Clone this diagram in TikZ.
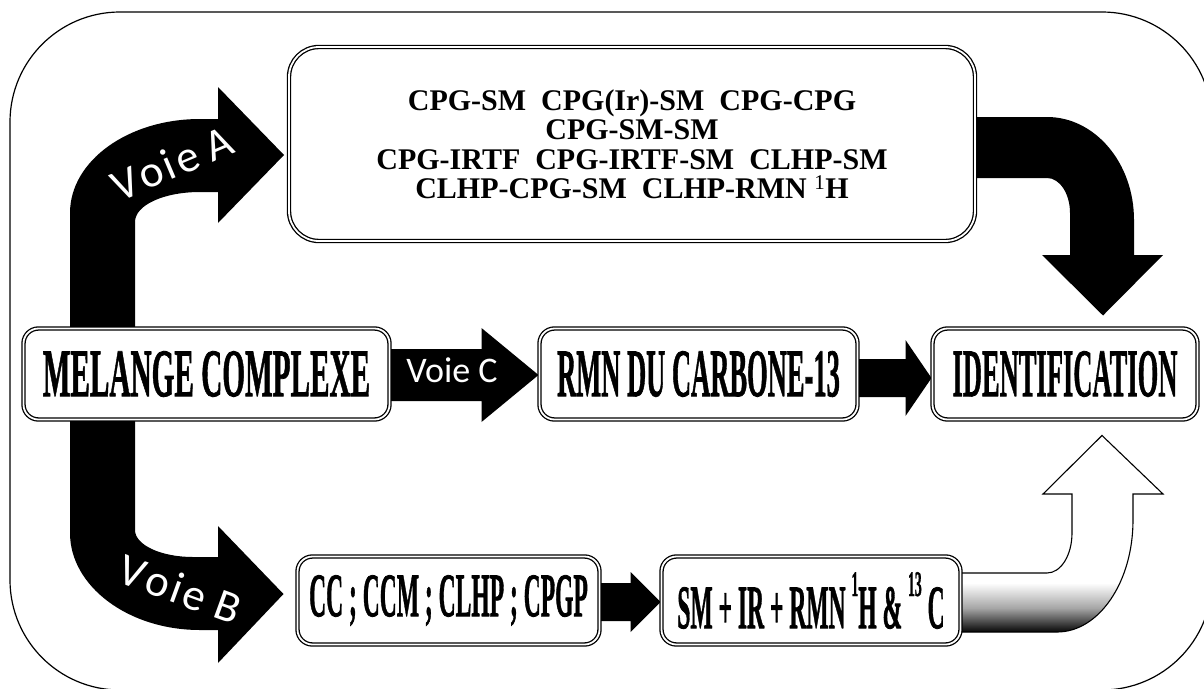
\documentclass[tikz,border=0pt]{standalone}
\usepackage{fontspec}
\usepackage{graphicx}
\setmainfont{Liberation Serif}
\newfontfamily\condfont[UprightFont=* Bold, FakeBold=1.3]{Liberation Serif}
\newfontfamily\voiefont{Carlito}
\newcommand\hisup[1]{\raisebox{0.52em}{\fontsize{36}{36}\selectfont #1}}
\usetikzlibrary{calc,backgrounds}
\begin{document}
\begin{tikzpicture}[x=1pt,y=-1pt,
  box/.style={draw, double, line width=1.3pt, double distance=1.8pt, rounded corners=15pt, fill=white, inner sep=0pt, outer sep=0pt},
  cond/.style={font=\condfont\fontsize{68}{70}\selectfont},
  condsmall/.style={font=\condfont\fontsize{62}{64}\selectfont},
  tbox/.style={font=\bfseries\fontsize{30}{29.5}\selectfont, align=center},
  blk/.style={fill=black},
  voie/.style={text=white, font=\voiefont\fontsize{36}{40}\selectfont, inner sep=0pt},
  voiebig/.style={voie, font=\voiefont\fontsize{45}{47}\selectfont},
]
\useasboundingbox (0,0) rectangle (1204,688);
\draw[line width=1.2pt, rounded corners=110pt] (10,12) rectangle (1212,690);

% boxes
\node[box, rounded corners=30pt, minimum width=686pt, minimum height=194pt, tbox] (top) at (632,144)
  {CPG-SM\ \ CPG(Ir)-SM\ \ CPG-CPG\\CPG-SM-SM\\CPG-IRTF\ \ CPG-IRTF-SM\ \ CLHP-SM\\CLHP-CPG-SM\ \ CLHP-RMN \textsuperscript{\mdseries 1}H};
\node[box, minimum width=366pt, minimum height=91pt, cond] (mel) at (206.5,374) {\scalebox{0.43}[1]{MELANGE COMPLEXE}};
\node[box, minimum width=318pt, minimum height=91pt, cond] (rmn) at (698.5,374) {\scalebox{0.39}[1]{RMN DU CARBONE-13}};
\node[box, minimum width=265pt, minimum height=91pt, cond] (ident) at (1065,374) {\scalebox{0.39}[1]{IDENTIFICATION}};
\node[box, minimum width=302pt, minimum height=88pt, condsmall] (cc) at (448.5,600.5) {\scalebox{0.38}[1]{CC ; CCM ; CLHP ; CPGP}};
\node[box, minimum width=299pt, minimum height=88pt, condsmall] (sm) at (811,600.5) {\scalebox{0.38}[1]{SM + IR + RMN \hisup{1}H \& \hisup{13} C}};

\begin{scope}[on background layer]
% Voie A
\fill[blk] (70,0 |- mel.north) -- (70,213) .. controls (70,161) and (128,119) .. (200,119) -- (218,119) -- (218,87)
  -- ($(top.west)+(-5,11)$) -- (218,223) -- (218,192) -- (200,192) .. controls (164,192) and (135,205) .. (135,222)
  -- (135,0 |- mel.north) -- cycle;
% Voie B
\fill[blk] (70,0 |- mel.south) -- (70,533) .. controls (70,586) and (128,630) .. (200,630) -- (218,630) -- (218,663)
  -- ($(cc.west)+(-14,-6.5)$) -- (218,526) -- (218,557) -- (193,557) .. controls (161,557) and (135,545) .. (135,530)
  -- (135,0 |- mel.south) -- cycle;
% Voie C
\fill[blk] ($(mel.east)+(0,-25)$) -- ($(rmn.west)+(-58,-25)$) -- ($(rmn.west)+(-58,-46)$) -- ($(rmn.west)+(-1,1)$)
  -- ($(rmn.west)+(-58,48)$) -- ($(rmn.west)+(-58,27)$) -- ($(mel.east)+(0,27)$) -- cycle;
% RMN -> IDENTIFICATION
\fill[blk] ($(rmn.east)+(0,-15)$) -- ($(ident.west)+(-27,-15)$) -- ($(ident.west)+(-27,-34)$) -- ($(ident.west)+(-1,4)$)
  -- ($(ident.west)+(-27,42)$) -- ($(ident.west)+(-27,23)$) -- ($(rmn.east)+(0,23)$) -- cycle;
% CC -> SM
\fill[blk] ($(cc.east)+(0,-17.5)$) -- ($(sm.west)+(-31,-17.5)$) -- ($(sm.west)+(-31,-28.5)$) -- ($(sm.west)+(-1,1.5)$)
  -- ($(sm.west)+(-31,31.5)$) -- ($(sm.west)+(-31,20.5)$) -- ($(cc.east)+(0,20.5)$) -- cycle;
% top box -> IDENTIFICATION
\fill[blk] ($(top.east)+(0,-27)$) -- (1047,117) .. controls (1095,117) and (1134,163) .. (1134,220) -- (1134,255) -- (1163,255)
  -- ($(ident.north)+(38,-13)$) -- (1042,255) -- (1070,255) -- (1070,213) .. controls (1070,194) and (1060,178) .. (1047,178)
  -- ($(top.east)+(0,34)$) -- cycle;
% SM -> IDENTIFICATION (shaded)
\path[save path=\wpath] ($(sm.east)+(0,-27.5)$) -- (1047,573) .. controls (1061,573) and (1072,555) .. (1072,533) -- (1072,494) -- (1043,494)
  -- ($(ident.south)+(37,16)$) -- (1163,494) -- (1133,494) -- (1133,520) .. controls (1133,582) and (1099,632) .. (1057,632)
  -- ($(sm.east)+(0,31.5)$) -- cycle;
\begin{scope}
\clip[use path=\wpath];
\fill[white] (950,420) rectangle (1170,640);
\shade[top color=white, bottom color=black, middle color=black!35] (950,583) rectangle (1170,633);
\end{scope}
\draw[line width=1.1pt, use path=\wpath];
\end{scope}

% labels
\node[voiebig, rotate=23] (la) at (172,163) {V\kern3pt o\kern3pt i\kern3pt e\kern11pt A};
\node[voiebig, rotate=-20] (lb) at (180,589) {V\kern3pt o\kern3pt i\kern3pt e\kern11pt B};
\node[voie] (lc) at (452,370) {Voie C};
\end{tikzpicture}
\end{document}
